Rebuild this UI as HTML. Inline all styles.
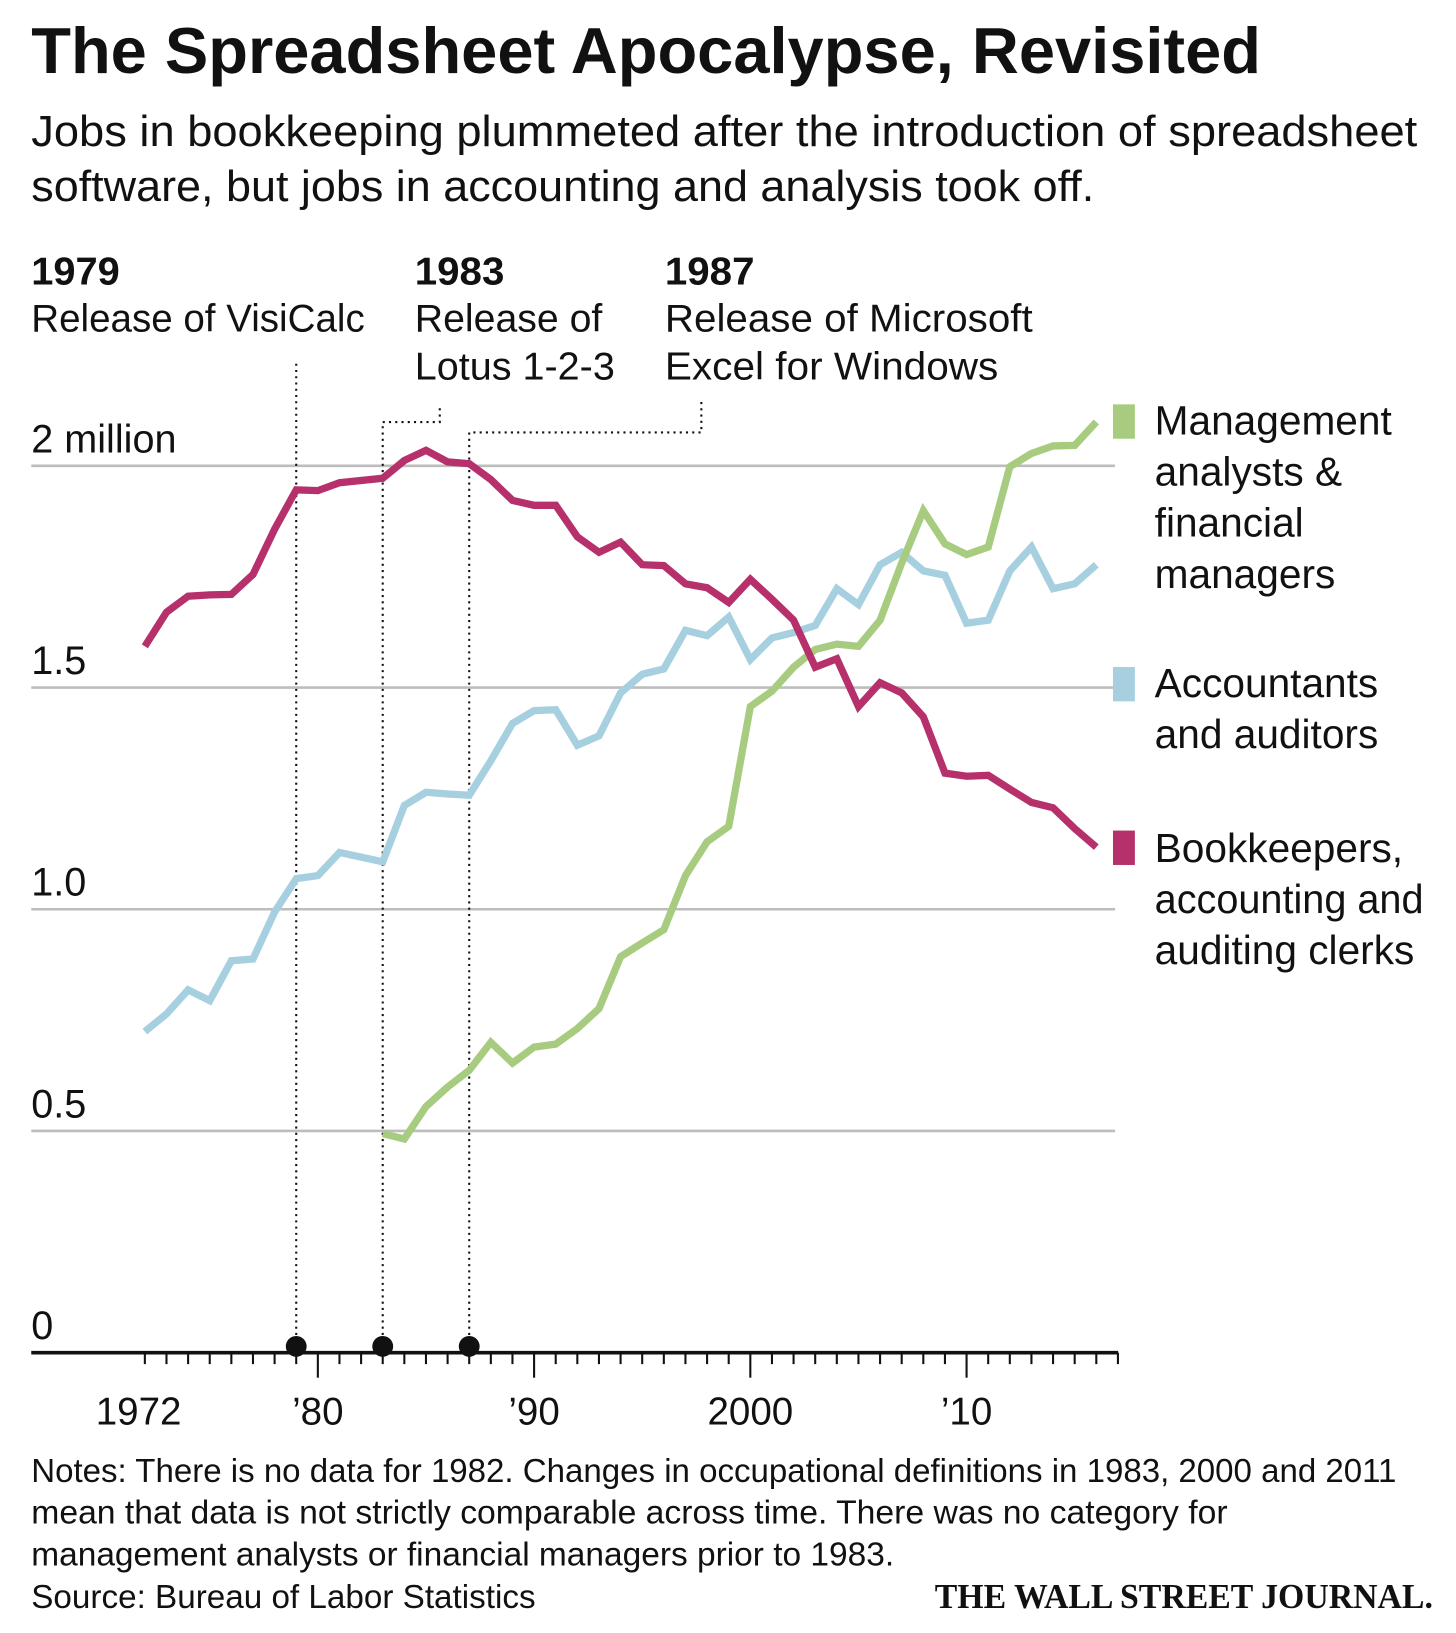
<!DOCTYPE html>
<html><head><meta charset="utf-8"><style>
html,body{margin:0;padding:0;background:#fff;}
svg{display:block;}
text{font-family:"Liberation Sans Narrow","Liberation Sans",sans-serif;fill:#111;}
.b{font-weight:bold;}
</style></head><body>
<svg id="chart" width="1456" height="1633" viewBox="0 0 1397 1567" preserveAspectRatio="xMinYMin meet" xmlns="http://www.w3.org/2000/svg">
<text class="b" x="30" y="70" font-size="62" textLength="1180" lengthAdjust="spacingAndGlyphs">The Spreadsheet Apocalypse, Revisited</text>
<text x="30" y="140" font-size="42" textLength="1330" lengthAdjust="spacingAndGlyphs">Jobs in bookkeeping plummeted after the introduction of spreadsheet</text>
<text x="30" y="193" font-size="42" textLength="1020" lengthAdjust="spacingAndGlyphs">software, but jobs in accounting and analysis took off.</text>

<g>
<text class="b" x="30" y="273" font-size="37" textLength="85" lengthAdjust="spacingAndGlyphs">1979</text>
<text x="30" y="318" font-size="37" textLength="320" lengthAdjust="spacingAndGlyphs">Release of VisiCalc</text>
</g>
<g>
<text class="b" x="398" y="273" font-size="37" textLength="86" lengthAdjust="spacingAndGlyphs">1983</text>
<text x="398" y="318" font-size="37" textLength="180" lengthAdjust="spacingAndGlyphs">Release of</text>
<text x="398" y="364" font-size="37" textLength="192" lengthAdjust="spacingAndGlyphs">Lotus 1-2-3</text>
</g>
<g>
<text class="b" x="638" y="273" font-size="37" textLength="86" lengthAdjust="spacingAndGlyphs">1987</text>
<text x="638" y="318" font-size="37" textLength="353" lengthAdjust="spacingAndGlyphs">Release of Microsoft</text>
<text x="638" y="364" font-size="37" textLength="320" lengthAdjust="spacingAndGlyphs">Excel for Windows</text>
</g>

<g id="grid"></g>
<g id="xaxis"></g>
<g id="leaders"></g>
<g id="series"></g>

<g>
<rect x="1068" y="388" width="21" height="33" fill="#a8cc7f"/>
<text x="1108" y="417" font-size="39">Management</text>
<text x="1108" y="466" font-size="39">analysts &amp;</text>
<text x="1108" y="515" font-size="39">financial</text>
<text x="1108" y="564" font-size="39">managers</text>
<rect x="1068" y="640" width="21" height="33" fill="#a6d0e0"/>
<text x="1108" y="669" font-size="39">Accountants</text>
<text x="1108" y="718" font-size="39">and auditors</text>
<rect x="1068" y="797" width="21" height="33" fill="#b6306b"/>
<text x="1108" y="827" font-size="39">Bookkeepers,</text>
<text x="1108" y="876" font-size="39" textLength="258" lengthAdjust="spacingAndGlyphs">accounting and</text>
<text x="1108" y="925" font-size="39">auditing clerks</text>
</g>

<g>
<text x="30" y="1422" font-size="32" textLength="1310" lengthAdjust="spacingAndGlyphs">Notes: There is no data for 1982. Changes in occupational definitions in 1983, 2000 and 2011</text>
<text x="30" y="1462" font-size="32" textLength="1148" lengthAdjust="spacingAndGlyphs">mean that data is not strictly comparable across time. There was no category for</text>
<text x="30" y="1502" font-size="32" textLength="828" lengthAdjust="spacingAndGlyphs">management analysts or financial managers prior to 1983.</text>
<text x="30" y="1543" font-size="32" textLength="484" lengthAdjust="spacingAndGlyphs">Source: Bureau of Labor Statistics</text>
</g>
<text class="b" x="897" y="1543" font-size="33" style="font-family:'Liberation Serif',serif" textLength="478" lengthAdjust="spacingAndGlyphs">THE WALL STREET JOURNAL.</text>
</svg>
<script>
const years = [1972,1973,1974,1975,1976,1977,1978,1979,1980,1981,1982,1983,1984,1985,1986,1987,1988,1989,1990,1991,1992,1993,1994,1995,1996,1997,1998,1999,2000,2001,2002,2003,2004,2005,2006,2007,2008,2009,2010,2011,2012,2013,2014,2015,2016];
const bookkeepers = [1.593,1.67,1.706,1.709,1.71,1.755,1.857,1.946,1.944,1.962,null,1.972,2.012,2.035,2.009,2.005,1.969,1.922,1.911,1.911,1.84,1.805,1.828,1.777,1.775,1.734,1.725,1.692,1.744,1.699,1.652,1.546,1.565,1.457,1.511,1.488,1.434,1.307,1.30,1.302,1.271,1.241,1.229,1.182,1.14];
const accountants = [0.724,0.764,0.818,0.794,0.884,0.888,0.994,1.069,1.076,1.128,null,1.107,1.234,1.264,1.26,1.257,1.335,1.419,1.448,1.45,1.37,1.391,1.488,1.53,1.542,1.629,1.617,1.659,1.563,1.612,1.624,1.64,1.723,1.687,1.777,1.805,1.763,1.753,1.645,1.652,1.763,1.817,1.723,1.734,1.777];
const management = [null,null,null,null,null,null,null,null,null,null,null,0.494,0.482,0.555,0.599,0.637,0.70,0.653,0.689,0.696,0.731,0.776,0.893,0.924,0.954,1.076,1.152,1.187,1.457,1.492,1.546,1.586,1.598,1.593,1.652,1.781,1.899,1.824,1.80,1.817,1.998,2.028,2.045,2.046,2.099];
const yTicks = [0,0.5,1.0,1.5,2];
const yTickLabels = ["0","0.5","1.0","1.5","2 million"];
const xMajor = [1980,1990,2000,2010];
const xLabelYears = [1972,1980,1990,2000,2010];
const xLabels = ["1972","\u201980","\u201990","2000","\u201910"];
const events = [1979,1983,1987];

const NS="http://www.w3.org/2000/svg";
const X = y => 305 + (y-1980)*20.75;
const Y = v => 1298 - v*425.5;
function mk(tag, attrs, parent){const e=document.createElementNS(NS,tag);for(const k in attrs)e.setAttribute(k,attrs[k]);parent.appendChild(e);return e;}

const grid=document.getElementById('grid');
yTicks.forEach((v,i)=>{
  if(v>0){const l=mk('line',{x1:30,x2:1070,y1:Y(v),y2:Y(v),stroke:'#bdbdbd','stroke-width':2.5},grid);
  
  }
  const t=mk('text',{x:30,y:Y(v)-13,'font-size':38},grid);
  
  
  t.textContent=yTickLabels[i];
});

const xa=document.getElementById('xaxis');
const base=mk('line',{x1:30,x2:1073,y1:1298,y2:1298,stroke:'#111','stroke-width':3.5},xa);


for(let yr=1972;yr<=2017;yr++){
  const maj=xMajor.includes(yr);
  const t=mk('line',{x1:X(yr),x2:X(yr),y1:1298,y2:maj?1322:1309,stroke:'#111','stroke-width':2},xa);
  
  
}
xLabelYears.forEach((yr,i)=>{
  const t=mk('text',{x:X(yr)-(i===0?6:0),y:1367,'font-size':37,'text-anchor':'middle'},xa);
  
  
  t.textContent=xLabels[i];
});

const ld=document.getElementById('leaders');
const paths=[
  [[X(1979),1293],[X(1979),345]],
  [[X(1983),1293],[X(1983),405],[422,405],[422,390]],
  [[X(1987),1293],[X(1987),415],[673,415],[673,385]]
];
events.forEach((yr,i)=>{
  const p=mk('polyline',{points:paths[i].map(q=>q.join(',')).join(' '),fill:'none',stroke:'#111','stroke-width':2,'stroke-dasharray':'2 4'},ld);
  
  
  const c=mk('circle',{cx:X(yr),cy:1292,r:10,fill:'#111'},ld);
  
  
});

const sg=document.getElementById('series');
function line(vals,color,name){
  const pts=[];vals.forEach((v,i)=>{if(v!==null)pts.push(X(years[i]).toFixed(1)+','+Y(v).toFixed(1));});
  const p=mk('polyline',{points:pts.join(' '),fill:'none',stroke:color,'stroke-width':7,'stroke-linejoin':'miter','stroke-miterlimit':3},sg);
  
  
}
line(accountants,'#a6d0e0','accountants-line');
line(management,'#a8cc7f','management-line');
line(bookkeepers,'#b6306b','bookkeepers-line');
</script>
</body></html>
